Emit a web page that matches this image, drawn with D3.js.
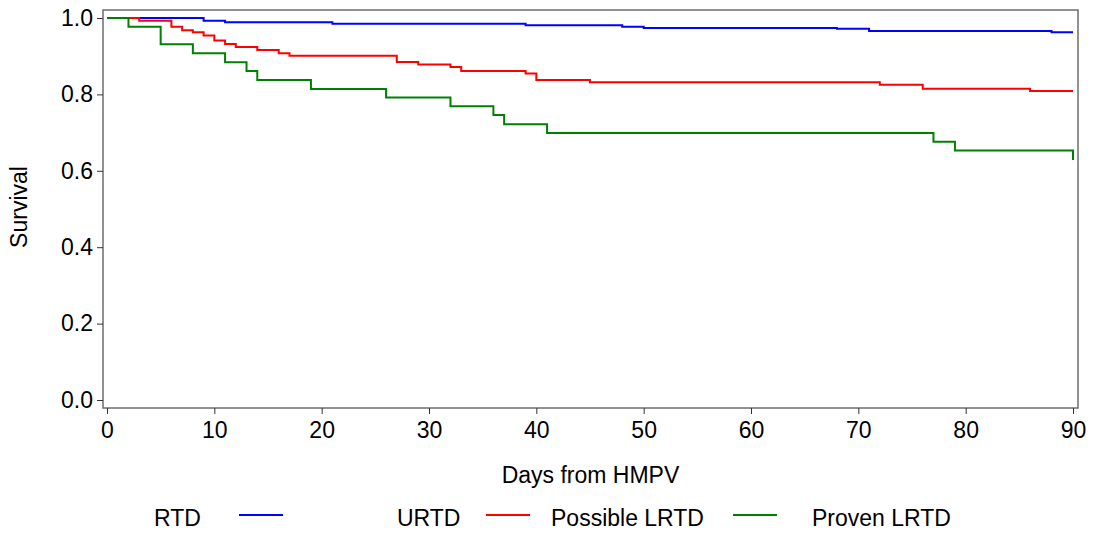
<!DOCTYPE html>
<html>
<head>
<meta charset="utf-8">
<script src="https://d3js.org/d3.v7.min.js"></script>
<style type="text/css">
  body { margin: 0; background: #fff; }
  svg text { font-family: "Liberation Sans", Arial, sans-serif; fill: #000; }
</style>
</head>
<body>
<svg id="chart" width="1094" height="537"></svg>
<script>

// survival curves (day, survival)
const rtdDays = [0, 9, 11, 21, 39, 48, 50, 68, 71, 88, 90];
const rtdSurv = [1.0, 0.993, 0.989, 0.985, 0.981, 0.977, 0.974, 0.972, 0.966, 0.963, 0.963];

const urtdDays = [0, 3, 6, 7, 8, 9, 10, 11, 12, 14, 16, 17, 27, 29, 32, 33, 39, 40, 45, 72, 76, 86, 90];
const urtdSurv = [1.0, 0.993, 0.977, 0.968, 0.963, 0.954, 0.941, 0.932, 0.924, 0.916, 0.908, 0.901,
                  0.885, 0.878, 0.872, 0.861, 0.855, 0.838, 0.832, 0.825, 0.815, 0.809, 0.809];

const lrtdDays = [0, 2, 5, 8, 11, 13, 14, 19, 26, 32, 36, 37, 41, 77, 79, 90, 90];
const lrtdSurv = [1.0, 0.977, 0.931, 0.908, 0.884, 0.861, 0.838, 0.814, 0.792, 0.769, 0.746,
                  0.722, 0.699, 0.676, 0.653, 0.653, 0.628];

const xTicks = [0, 10, 20, 30, 40, 50, 60, 70, 80, 90];
const yTicks = [0, 0.2, 0.4, 0.6, 0.8, 1.0];

const legendLabels = ['RTD', 'URTD', 'Possible LRTD', 'Proven LRTD'];
const legendColors = ['#0000ff', '#ff0000', '#008000'];

const series = [
  { days: rtdDays, surv: rtdSurv, color: '#0000ff' },
  { days: urtdDays, surv: urtdSurv, color: '#ff0000' },
  { days: lrtdDays, surv: lrtdSurv, color: '#008000' },
];

const fontSize = 23;
const chart = d3.select('#chart');
const box = { left: 103, right: 1078, top: 10, bottom: 408 };

const x = d3.scaleLinear().domain([0, 90]).range([107, 1073]);
const y = d3.scaleLinear().domain([0, 1]).range([400, 18]);

const line = d3.line()
  .x(d => x(d[0]))
  .y(d => y(d[1]))
  .curve(d3.curveStepAfter);

series.forEach(s => {
  const pts = s.days.map((d, i) => [d, s.surv[i]]);
  chart.append('path')
    .datum(pts)
    .attr('fill', 'none')
    .attr('stroke', s.color)
    .attr('stroke-width', 2)
    .attr('d', line);
});

// frame
chart.append('rect')
  .attr('x', box.left)
  .attr('y', box.top)
  .attr('width', box.right - box.left)
  .attr('height', box.bottom - box.top)
  .attr('fill', 'none')
  .attr('stroke', '#6e6e6e')
  .attr('stroke-width', 1.5);

const xAxis = chart.append('g')
  .attr('transform', `translate(0 ${box.bottom})`)
  .call(d3.axisBottom(x).tickValues(xTicks).tickSize(6).tickPadding(8).tickSizeOuter(0));
xAxis.select('.domain').remove();
xAxis.selectAll('line').attr('stroke', '#333');
xAxis.selectAll('text').attr('font-size', fontSize).attr('fill', '#000');

const yAxis = chart.append('g')
  .attr('transform', `translate(${box.left} 0)`)
  .call(d3.axisLeft(y).tickValues(yTicks).tickFormat(d3.format('.1f')).tickSize(6).tickPadding(4).tickSizeOuter(0));
yAxis.select('.domain').remove();
yAxis.selectAll('line').attr('stroke', '#333');
yAxis.selectAll('text').attr('font-size', fontSize).attr('fill', '#000');

chart.append('text')
  .attr('x', (box.left + box.right) / 2)
  .attr('y', 483)
  .attr('text-anchor', 'middle')
  .attr('font-size', fontSize)
  .text('Days from HMPV');

chart.append('text')
  .attr('transform', 'translate(27 207) rotate(-90)')
  .attr('text-anchor', 'middle')
  .attr('font-size', fontSize)
  .text('Survival');

// legend (labels and swatches alternate as in the original)
const labelX = [154, 397, 551, 812];
const swatchX = [[239, 283], [486, 530], [733, 777]];
legendLabels.forEach((t, i) => {
  chart.append('text')
    .attr('x', labelX[i])
    .attr('y', 526)
    .attr('font-size', fontSize)
    .text(t);
});
legendColors.forEach((c, i) => {
  chart.append('line')
    .attr('x1', swatchX[i][0])
    .attr('x2', swatchX[i][1])
    .attr('y1', 515)
    .attr('y2', 515)
    .attr('stroke', c)
    .attr('stroke-width', 2);
});

</script>
</body>
</html>
